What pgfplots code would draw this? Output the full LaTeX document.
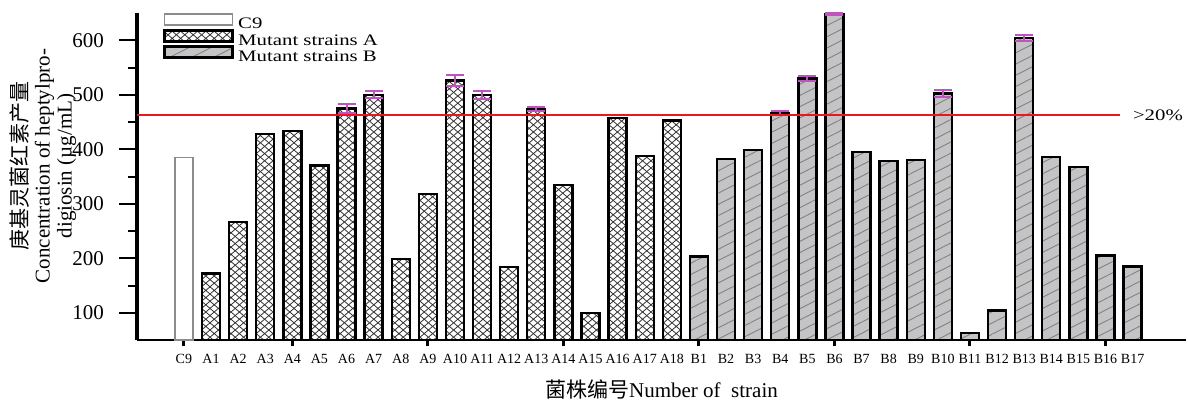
\documentclass[border=0pt]{standalone}
\usepackage{pgfplots}
\usepackage{pgfplotstable}
\pgfplotsset{compat=1.18}
\usetikzlibrary{patterns,patterns.meta}
\usepackage{fontspec}
\setmainfont{Liberation Serif}
\newfontfamily\cjk{Noto Sans CJK SC}
\newfontfamily\widefont[FakeStretch=1.3]{Liberation Serif}

\definecolor{bfill}{RGB}{196,196,198}
\definecolor{bline}{RGB}{130,130,130}
\definecolor{errc}{RGB}{190,85,190}
\definecolor{cedge}{RGB}{140,140,140}
\definecolor{thr}{RGB}{240,20,30}

% elongated diamond hatching for the A strains
\pgfdeclarepatternformonly{diamonds}{\pgfqpoint{-0.1pt}{-0.1pt}}{\pgfqpoint{4.3pt}{3.7pt}}{\pgfqpoint{4.2pt}{3.6pt}}{%
  \pgfsetlinewidth{0.4pt}%
  \pgfpathmoveto{\pgfqpoint{0pt}{0pt}}\pgfpathlineto{\pgfqpoint{4.2pt}{3.6pt}}%
  \pgfpathmoveto{\pgfqpoint{0pt}{3.6pt}}\pgfpathlineto{\pgfqpoint{4.2pt}{0pt}}%
  \pgfusepath{stroke}}

% heptylprodigiosin yield per strain (index, ug/mL)
\pgfplotstableread{
x y
0 385
}\ctrl
\pgfplotstableread{
x y
1 172
2 266
3 428
4 434
5 370
6 475
7 500
8 199
9 318
10 526
11 500
12 184
13 474
14 334
15 100
16 457
17 388
18 453
}\mutA
\pgfplotstableread{
x y
19 203
20 382
21 399
22 467
23 530
24 648
25 395
26 378
27 380
28 502
29 63
30 104
31 604
32 386
33 367
34 205
35 185
}\mutB
% strains measured with replicates
\pgfplotstableread{
x y e
6 475 8
7 500 6
10 526 10
11 500 7
13 474 4
22 467 4
23 530 4
24 648 2
28 502 7
31 604 5
}\errs

\pgfplotsset{boxlegend/.style={legend image code/.code={%
  \draw[##1] (0pt,-0.1pt) rectangle (34pt,5.4pt);}}}

\begin{document}
\begin{tikzpicture}
\useasboundingbox (-68.5pt,-31pt) rectangle (525.5pt,170pt);
\begin{axis}[
  scale only axis, width=524.5pt, height=163.5pt,
  xmin=-1.73, xmax=36.97, ymin=50, ymax=650,
  clip=false,
  axis lines=left, axis line style={-},
  y axis line style={line width=1.5pt},
  x axis line style={line width=1pt},
  tick align=outside,
  ytick={100,200,...,600}, minor y tick num=1,
  major tick length=9pt, minor tick length=4.5pt,
  tick style={black, line width=1pt},
  xtick={0,...,35},
  xticklabels={C9,A1,A2,A3,A4,A5,A6,A7,A8,A9,A10,A11,A12,A13,A14,A15,A16,A17,A18,
    B1,B2,B3,B4,B5,B6,B7,B8,B9,B10,B11,B12,B13,B14,B15,B16,B17},
  xtick style={draw=none},
  extra x ticks={0,4,9,14,19,24,29,34},
  extra x tick labels={},
  extra x tick style={xtick style={draw=black, line width=1.5pt}, major tick length=3.2pt},
  /pgf/number format/assume math mode=true,
  yticklabel style={font=\fontsize{10.5}{12}\selectfont, xshift=-4pt},
  xticklabel style={font=\fontsize{7}{8}\selectfont, yshift=5.5pt},
  xlabel={{\cjk 菌株编号}Number of\ \ strain},
  xlabel style={font=\fontsize{10.5}{12}\selectfont, at={(axis description cs:0.5,0)}, anchor=base, yshift=-28.5pt},
  legend style={at={(axis description cs:0,1)}, anchor=north west, xshift=13pt,
    draw=none, fill=none, inner sep=0pt, row sep=-1.3pt, column sep=2.2pt,
    font=\widefont\fontsize{8}{8}\selectfont, nodes={inner sep=0pt}},
  legend cell align=left,
]
\addplot[ybar, bar width=9pt, bar shift=0pt, fill=white, draw=cedge, line width=0.8pt, boxlegend]
  table[x=x,y=y]{\ctrl};
\addlegendentry{C9}
\addplot[ybar, bar width=9pt, bar shift=0pt, preaction={fill=white}, pattern=diamonds,
  pattern color=black!80, draw=black, line width=1.2pt, boxlegend]
  table[x=x,y=y]{\mutA};
\addlegendentry{Mutant strains A}
\addplot[ybar, bar width=9pt, bar shift=0pt, preaction={fill=bfill},
  pattern={Lines[angle=27,distance=5pt,line width=0.45pt]}, pattern color=bline,
  draw=black, line width=1.2pt, boxlegend]
  table[x=x,y=y]{\mutB};
\addlegendentry{Mutant strains B}
% error bars on the replicated strains
\addplot[ybar, bar width=9pt, bar shift=0pt, draw=none, fill=none, forget plot,
  error bars/.cd, y dir=both, y explicit,
  error bar style={draw=errc, line width=1pt},
  error mark options={draw=errc, rotate=90, mark size=4.5pt, line width=1pt}]
  table[x=x,y=y,y error=e]{\errs};
% 20 % above the C9 control (1.2 x 385)
\addplot[draw=thr, line width=1pt, forget plot, mark=none] coordinates {(-1.73,462) (34.55,462)};
\node[anchor=west, font=\widefont\fontsize{8}{8}\selectfont, inner sep=0pt] at (axis cs:35.0,462) {>20\%};
\end{axis}
\node[rotate=90, align=center, font=\fontsize{10.5}{11}\selectfont] at (-47pt,87pt)
  {{\cjk 庚基灵菌红素产量}\\Concentration of heptylpro-\\digiosin (µg/mL)};
\end{tikzpicture}
\end{document}
